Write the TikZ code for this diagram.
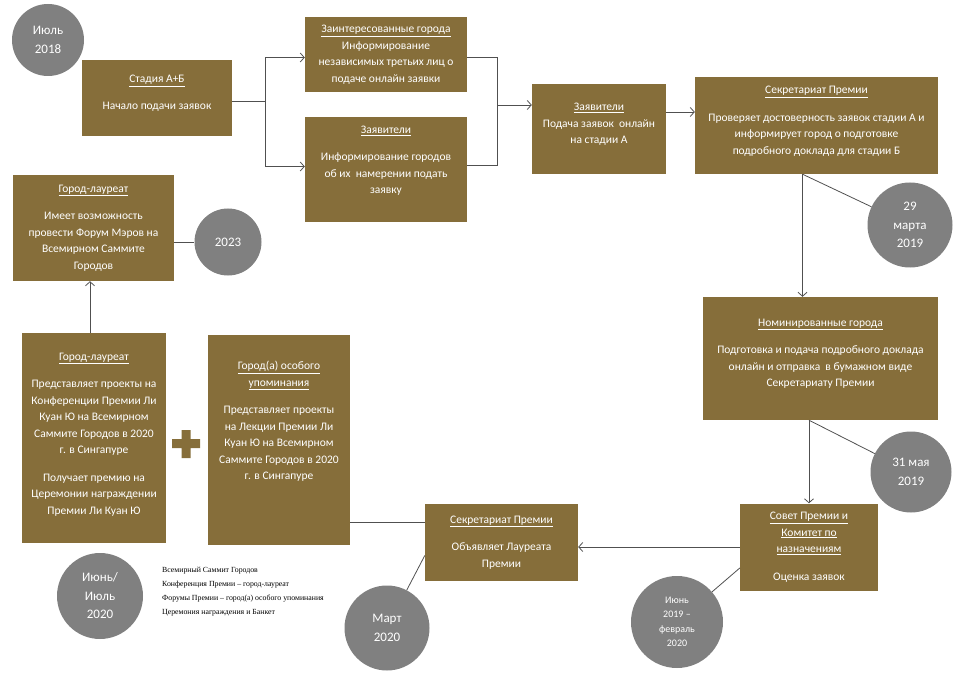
\documentclass[tikz,border=0pt]{standalone}
\usepackage{fontspec}
\setmainfont{Carlito}
\newfontfamily\legendafont{Liberation Serif}
\usepackage{tikz}
\usetikzlibrary{positioning,calc,arrows.meta}
\tikzset{>={Straight Barb[length=4pt,width=9pt]}}
\definecolor{bruin}{RGB}{134,110,58}
\definecolor{grijs}{RGB}{128,128,128}
\definecolor{lijn}{RGB}{80,80,80}
\newcommand{\kop}[1]{\underline{#1}}

\begin{document}
\begin{tikzpicture}[x=1pt,y=-1pt,
                    blok/.style={fill=bruin,text=white,inner sep=0,align=center,font=\fontsize{11.5}{16.5}\selectfont},
                    datum/.style={circle,fill=grijs,text=white,inner sep=0,align=center,font=\fontsize{13}{18.5}\selectfont},
                    verbinding/.style={draw=lijn,line width=0.8pt},
       ]
       \useasboundingbox (0,0) rectangle (962,674);
       % blokken
       \node[blok,minimum width=150,minimum height=76] (stadia) at (157,98) {\kop{Стадия А+Б}\\[11pt]Начало подачи заявок\\[-5.5pt]};
       \node[blok,minimum width=162,minimum height=75] (zaint) at (386,54.5) {\kop{Заинтересованные города}\\Информирование\\независимых третьих лиц о\\подаче онлайн заявки};
       \node[blok,minimum width=162,minimum height=105] (zayav1) at (386,169.5) {\kop{Заявители}\\[11pt]Информирование городов\\об их\ \ намерении подать\\заявку\\[3pt]};
       \node[blok,minimum width=134,minimum height=90] (zayav2) at (599,129) {\kop{Заявители}\\Подача заявок\ \ онлайн\\на стадии А\\[-5.5pt]};
       \node[blok,minimum width=243,minimum height=97] (sekr1) at (816.5,125.5) {\kop{Секретариат Премии}\\[11pt]Проверяет достоверность заявок стадии А и\\информирует город о подготовке\\подробного доклада для стадии Б\\[-6pt]};
       \node[blok,minimum width=235,minimum height=123] (nomin) at (820.5,358.5) {\kop{Номинированные города}\\[11pt]Подготовка и подача подробного доклада\\онлайн и отправка\ \ в бумажном виде\\Секретариату Премии\\[-5pt]};
       \node[blok,minimum width=138,minimum height=87] (sovet) at (809,547) {\kop{Совет Премии и}\\\kop{Комитет по}\\\kop{назначениям}\\[11pt]Оценка заявок};
       \node[blok,minimum width=153,minimum height=77] (sekr2) at (501.5,542.5) {\kop{Секретариат Премии}\\[11pt]Объявляет Лауреата\\Премии};
       \node[blok,minimum width=142,minimum height=210] (gorodA) at (279,440) {\kop{Город(а) особого}\\\kop{упоминания}\\[11pt]Представляет проекты\\на Лекции Премии Ли\\Куан Ю на Всемирном\\Саммите Городов в 2020\\г. в Сингапуре\\[22.5pt]};
       \node[blok,minimum width=144,minimum height=210] (laureat2) at (94,438) {\kop{Город-лауреат}\\[11pt]Представляет проекты на\\Конференции Премии Ли\\Куан Ю на Всемирном\\Саммите Городов в 2020\\г. в Сингапуре\\[11pt]Получает премию на\\Церемонии награждении\\Премии Ли Куан Ю\\[-7.5pt]};
       \node[blok,minimum width=161,minimum height=106] (laureat1) at (93.5,228) {\kop{Город-лауреат}\\[11pt]Имеет возможность\\провести Форум Мэров на\\Всемирном Саммите\\Городов};
       % data
       \node[datum,minimum size=72] (iyul18) at (48,40) {Июль\\2018};
       \node[datum,minimum size=67] (god2023) at (228,242) {2023};
       \node[datum,minimum size=85] (mart29) at (910,225) {29\\марта\\2019};
       \node[datum,minimum size=81] (mai31) at (911,472) {31 мая\\2019};
       \node[datum,minimum size=86] (iyun20) at (100,596) {Июнь/\\Июль\\2020};
       \node[datum,minimum size=85] (mart20) at (387,628) {Март\\2020};
       \node[datum,minimum size=92,font=\fontsize{10}{14.5}\selectfont] (iyun19) at (677,622) {Июнь\\2019 –\\февраль\\2020};
       % plus
       \fill[bruin] (172,439) rectangle (200,448) (181.5,430) rectangle (190.5,458);
       % legenda
       \node[anchor=north west,align=left,inner sep=0,font=\legendafont\fontsize{7.8}{14}\selectfont] (legenda) at (162,567)
            {Всемирный Саммит Городов\\Конференция Премии – город-лауреат\\Форумы Премии – город(а) особого упоминания\\Церемония награждения и Банкет};
       % verbindingen
       \coordinate (tak) at (265,101);
       \coordinate (samen) at (497,105);
       \draw[verbinding] (stadia.east |- tak) -- (tak);
       \draw[verbinding,->] (tak) |- ([yshift=-3pt]zaint.west);
       \draw[verbinding,->] (tak) |- ([yshift=3pt]zayav1.west);
       \draw[verbinding] ([yshift=-3pt]zaint.east) -| (samen);
       \draw[verbinding] ([yshift=4pt]zayav1.east) -| (samen);
       \draw[verbinding,->] (samen) -- (zayav2.west |- samen);
       \draw[verbinding,->] ([yshift=17pt]zayav2.east) -- ([yshift=17pt]zayav2.east -| sekr1.west);
       \draw[verbinding,->] ([xshift=-14pt]sekr1.south) -- ([xshift=-14pt]sekr1.south |- nomin.north);
       \draw[verbinding] ([xshift=-14pt]sekr1.south) -- (mart29);
       \draw[verbinding,->] (nomin.south -| sovet.north) -- (sovet.north);
       \draw[verbinding] (nomin.south -| sovet.north) -- (mai31);
       \draw[verbinding,->] (sovet.west) -- (sovet.west -| sekr2.east);
       \draw[verbinding] ([yshift=-21pt]sovet.west) -- (iyun19);
       \draw[verbinding] ([yshift=20pt]sekr2.west) -- ([yshift=20pt]sekr2.west -| gorodA.east);
       \draw[verbinding] ([yshift=-13pt]sekr2.west) -- (mart20);
       \draw[verbinding,->] ([xshift=-4pt]laureat2.north) -- ([xshift=-4pt]laureat2.north |- laureat1.south);
       \draw[verbinding] ([yshift=-14pt]laureat1.east) -- (god2023);
    \end{tikzpicture}
\end{document}
